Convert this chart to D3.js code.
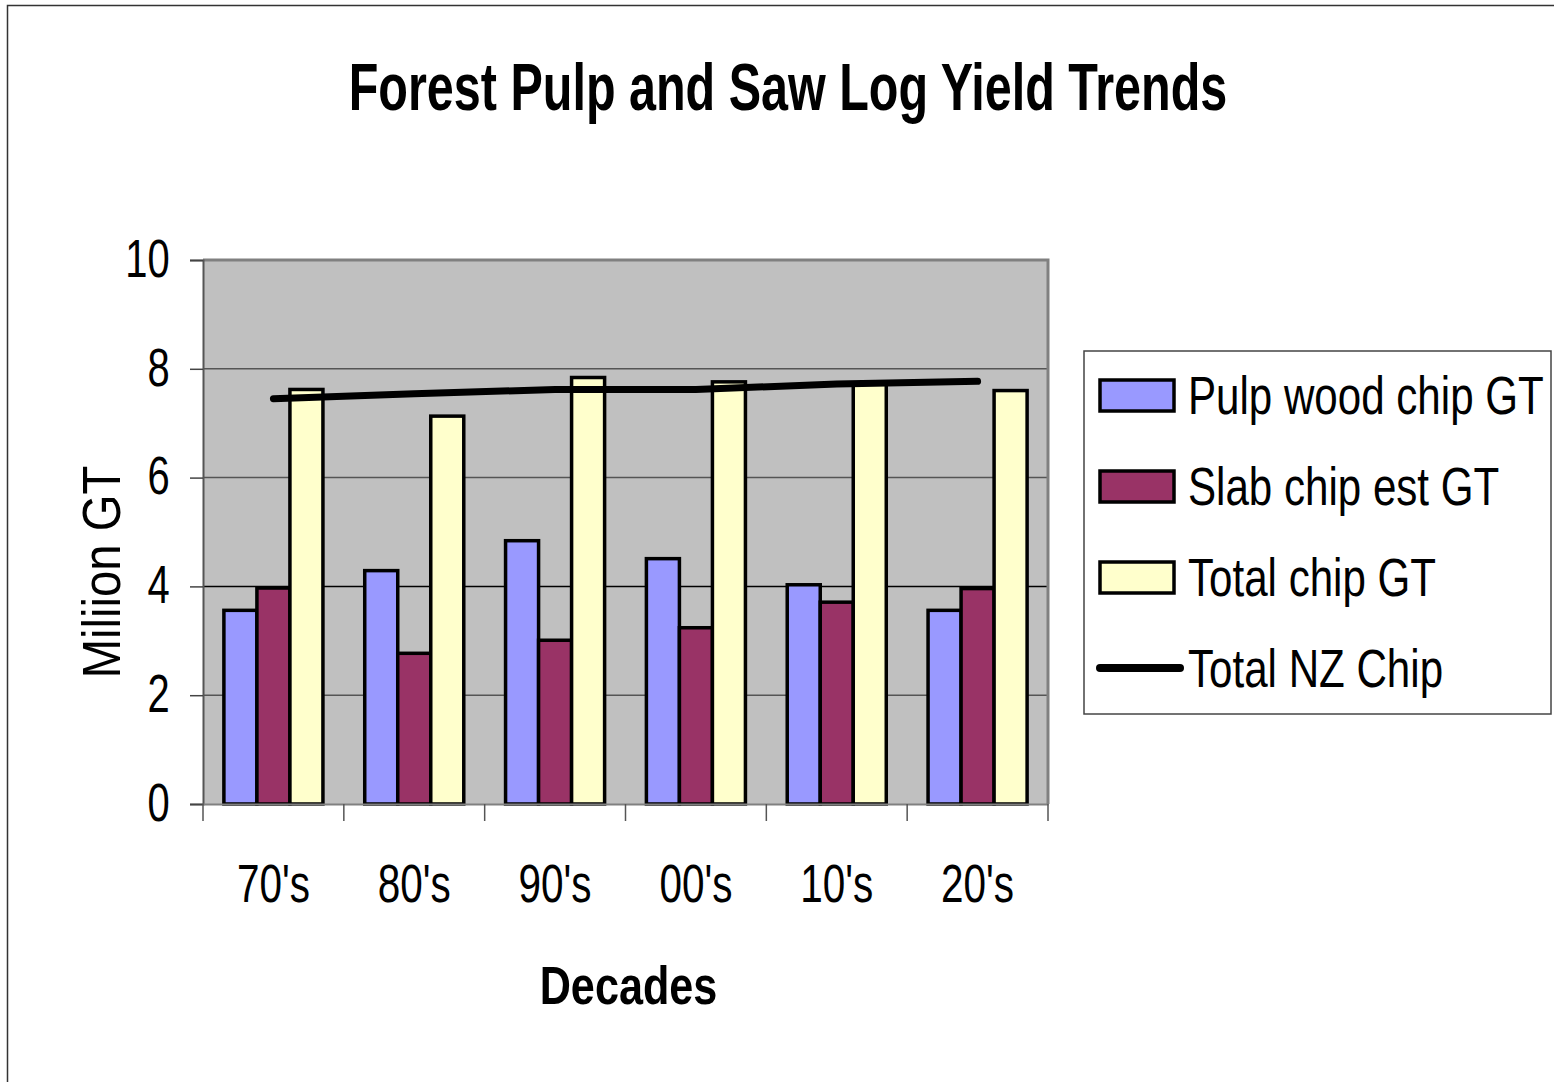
<!DOCTYPE html>
<html>
<head>
<meta charset="utf-8">
<script src="https://cdn.jsdelivr.net/npm/d3@7"></script>
<style>
  body { margin: 0; background: #fff; }
  text { font-family: "Liberation Sans", Arial, sans-serif; }
</style>
</head>
<body>
<div id="chart"></div>
<script>
// data
const decades = ["70's", "80's", "90's", "00's", "10's", "20's"]
const pulpChip = [3.56, 4.29, 4.84, 4.51, 4.03, 3.56]
const slabChip = [3.97, 2.77, 3.01, 3.24, 3.71, 3.96]
const totalChip = [7.62, 7.13, 7.84, 7.76, 7.73, 7.60]
const totalNZ = [7.45, 7.54, 7.62, 7.62, 7.72, 7.77]
const yTicks = [0, 2, 4, 6, 8, 10]

const barSeries = [
  {name: "Pulp wood chip GT", values: pulpChip, color: "#9999ff"},
  {name: "Slab chip est GT", values: slabChip, color: "#993366"},
  {name: "Total chip GT", values: totalChip, color: "#ffffcc"}
]

//svg container
const svgWidth = 1554
const svgHeight = 1082
const margin = {top: 260, left: 203}
const width = 845
const height = 544

// no narrow font installed, so squeeze text horizontally
function narrowText(parent, x, y, str, size, squeeze, opts = {}) {
  const g = parent.append("g")
    .attr("transform", `translate(${x}, ${y})${opts.rotate ? " rotate(-90)" : ""} scale(${squeeze}, 1)`)
  return g.append("text")
    .attr("text-anchor", opts.anchor || "middle")
    .style("font-size", size + "px")
    .style("font-weight", opts.bold ? "bold" : "normal")
    .text(str)
}

const svg = d3.select("#chart")
  .append("svg")
  .attr("width", svgWidth)
  .attr("height", svgHeight)

// outer frame
svg.append("rect")
  .attr("x", 7.5).attr("y", 5.5)
  .attr("width", svgWidth).attr("height", svgHeight)
  .attr("fill", "none").attr("stroke", "#333").attr("stroke-width", 1.5)

narrowText(svg, 788, 110, "Forest Pulp and Saw Log Yield Trends", 66, 0.735, {bold: true})

const chartGroup = svg.append("g")
  .attr("transform", `translate(${margin.left}, ${margin.top})`)

const xScale = d3.scaleBand().domain(decades).range([0, width])
const xInner = d3.scaleBand()
  .domain(barSeries.map(d => d.name))
  .range([0, xScale.bandwidth()])
  .paddingOuter(0.633)
const yScale = d3.scaleLinear().domain([0, 10]).range([height, 0])

// plot background
chartGroup.append("rect")
  .attr("width", width).attr("height", height)
  .attr("fill", "#c0c0c0")

// gridlines
chartGroup.append("g")
  .selectAll("line")
  .data(yTicks.filter(t => t > 0 && t < 10))
  .enter()
  .append("line")
  .attr("x1", 0).attr("x2", width)
  .attr("y1", d => yScale(d)).attr("y2", d => yScale(d))
  .attr("stroke", d => d === 4 ? "#000" : "#555")
  .attr("stroke-width", 1.5)

// plot border top/right
chartGroup.append("path")
  .attr("d", `M0,0H${width}V${height}`)
  .attr("fill", "none").attr("stroke", "#808080").attr("stroke-width", 3)

// bars
barSeries.forEach(s => {
  chartGroup.append("g")
    .selectAll("rect")
    .data(s.values)
    .enter()
    .append("rect")
    .attr("x", (d, i) => xScale(decades[i]) + xInner(s.name))
    .attr("y", d => yScale(d))
    .attr("width", xInner.bandwidth())
    .attr("height", d => height - yScale(d))
    .attr("fill", s.color)
    .attr("stroke", "#000")
    .attr("stroke-width", 3.5)
})

// Total NZ Chip line
const line = d3.line()
  .x((d, i) => xScale(decades[i]) + xScale.bandwidth() / 2)
  .y(d => yScale(d))
chartGroup.append("path")
  .datum(totalNZ)
  .attr("d", line)
  .attr("fill", "none")
  .attr("stroke", "#000")
  .attr("stroke-width", 7)
  .attr("stroke-linecap", "round")

// axes
const yAxis = d3.axisLeft(yScale).tickValues(yTicks).tickSize(13)
const yG = chartGroup.append("g").call(yAxis)
yG.select(".domain").attr("stroke", "#555").attr("stroke-width", 2)
yG.selectAll(".tick line").attr("stroke", "#444").attr("stroke-width", 1.5)
yG.selectAll("text")
  .attr("x", -45).attr("dy", "0.3em")
  .attr("transform", "scale(0.74, 1)")
  .style("font-size", "54px").attr("fill", "#000")
  .style("font-family", "'Liberation Sans', Arial, sans-serif")

const xAxis = d3.axisBottom(xScale).tickSize(0).tickPadding(60)
const xG = chartGroup.append("g")
  .attr("transform", `translate(0, ${height})`)
  .call(xAxis)
xG.select(".domain").attr("stroke", "#808080").attr("stroke-width", 2)
xG.selectAll("text")
  .attr("transform", "scale(0.75, 1)")
  .style("font-size", "54px").attr("fill", "#000")
  .style("font-family", "'Liberation Sans', Arial, sans-serif")
// category boundary ticks
xG.append("g")
  .selectAll("line")
  .data(decades.concat(["end"]))
  .enter()
  .append("line")
  .attr("x1", (d, i) => i * xScale.step()).attr("x2", (d, i) => i * xScale.step())
  .attr("y1", 0).attr("y2", 17)
  .attr("stroke", "#555").attr("stroke-width", 1.5)

// axis titles
narrowText(chartGroup, -83, height / 2 + 40, "Miliion GT", 54, 0.875, {rotate: true})
narrowText(chartGroup, width / 2 + 3, height + 200, "Decades", 54, 0.8, {bold: true})

// legend
const legend = svg.append("g").attr("transform", "translate(1084, 351)")
legend.append("rect")
  .attr("width", 467).attr("height", 363)
  .attr("fill", "#fff").attr("stroke", "#444").attr("stroke-width", 1.5)
const legendItems = barSeries.map(d => d.name).concat(["Total NZ Chip"])
legendItems.forEach((name, i) => {
  const row = legend.append("g").attr("transform", `translate(0, ${44 + i * 91})`)
  if (i < 3) {
    row.append("rect")
      .attr("x", 16).attr("y", -15)
      .attr("width", 74).attr("height", 31)
      .attr("fill", barSeries[i].color)
      .attr("stroke", "#000").attr("stroke-width", 3.5)
  } else {
    row.append("line")
      .attr("x1", 16).attr("x2", 96)
      .attr("y1", 0).attr("y2", 0)
      .attr("stroke", "#000").attr("stroke-width", 8)
      .attr("stroke-linecap", "round")
  }
  narrowText(row, 104, 19, name, 54, 0.78, {anchor: "start"})
})
</script>
</body>
</html>
